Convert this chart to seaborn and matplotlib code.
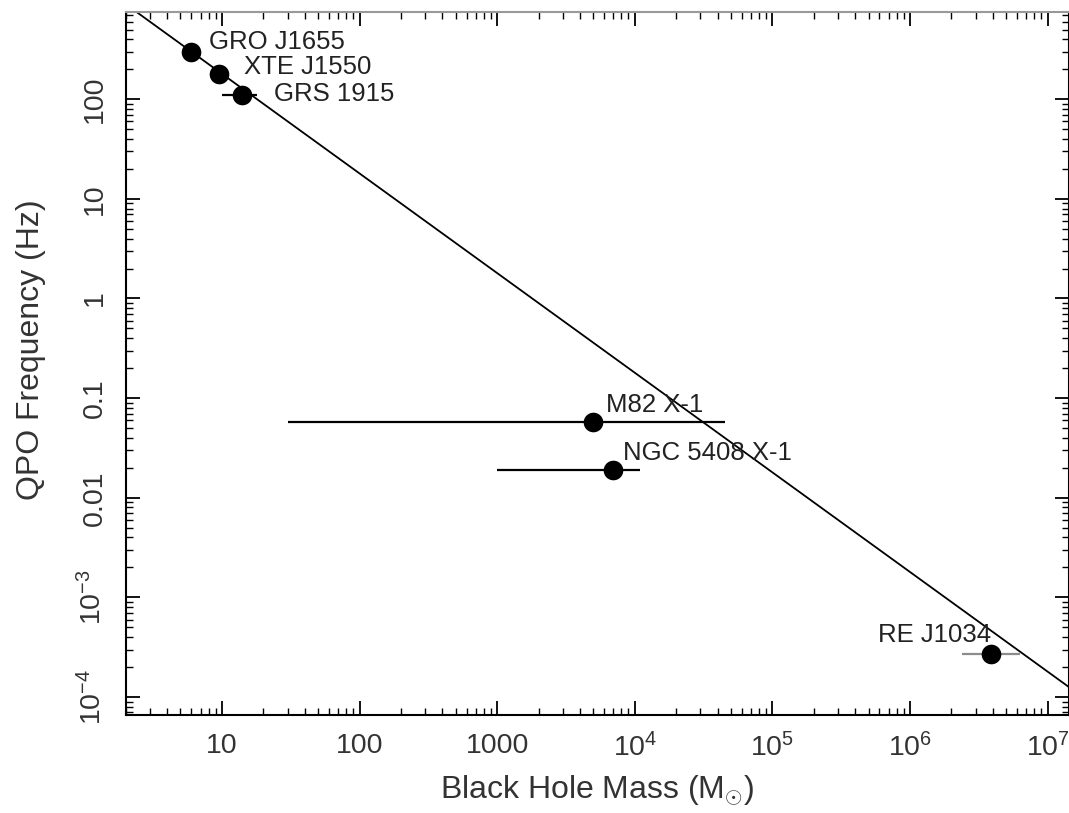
import numpy as np
import matplotlib
matplotlib.use("Agg")
import matplotlib.pyplot as plt
from matplotlib.ticker import LogLocator, NullFormatter
import seaborn as sns

# sources: name, black hole mass (Msun), QPO frequency (Hz), mass range
names = ["GRO J1655", "XTE J1550", "GRS 1915", "M82 X-1", "NGC 5408 X-1", "RE J1034"]
mass = [6.0, 9.5, 14.0, 5.0e3, 7.0e3, 3.9e6]
mass_lo = [np.nan, np.nan, 10.0, 30.0, 1.0e3, 2.4e6]
mass_hi = [np.nan, np.nan, 18.0, 4.5e4, 1.1e4, 6.3e6]
freq = [300.0, 180.0, 110.0, 0.057, 0.019, 2.7e-4]
bar_color = ["black", "black", "black", "black", "black", "#8c8c8c"]

# f ~ 1/M relation, end points
line_mass = [1.0, 1.0e8]
line_freq = [1.8e3, 1.8e-5]

x_ticks = [10, 100, 1000, 1e4, 1e5, 1e6, 1e7]
x_labels = ["10", "100", "1000", r"$\mathdefault{10^{4}}$", r"$\mathdefault{10^{5}}$",
            r"$\mathdefault{10^{6}}$", r"$\mathdefault{10^{7}}$"]
y_ticks = [1e-4, 1e-3, 0.01, 0.1, 1, 10, 100]
y_labels = [r"$\mathdefault{10^{-4}}$", r"$\mathdefault{10^{-3}}$", "0.01", "0.1", "1", "10", "100"]

# label offsets (points) and alignment
lab_dx = [13, 18, 23, 9, 7, 0]
lab_dy = [7, 5, 0.5, 12.5, 12.5, 14]
lab_ha = ["left", "left", "left", "left", "left", "right"]

sns.set_style("ticks")
plt.rcParams["font.family"] = ["Liberation Sans", "DejaVu Sans"]
plt.rcParams["mathtext.fontset"] = "custom"
plt.rcParams["mathtext.rm"] = "Liberation Sans"
plt.rcParams["mathtext.it"] = "Liberation Sans:italic"

fig = plt.figure(figsize=(10.69, 8.13), dpi=100)
ax = fig.add_axes([0.1176, 0.1205, 0.882, 0.8647])

sns.lineplot(x=line_mass, y=line_freq, color="black", lw=1.3, ax=ax)

for m, lo, hi, f, c in zip(mass, mass_lo, mass_hi, freq, bar_color):
    if np.isnan(lo):
        continue
    ax.errorbar([m], [f], xerr=[[m - lo], [hi - m]], fmt="none", ecolor=c,
                elinewidth=1.6, capsize=0)

sns.scatterplot(x=mass, y=freq, color="black", s=200, edgecolor="black", linewidth=0, ax=ax, zorder=5)

for n, m, f, dx, dy, ha in zip(names, mass, freq, lab_dx, lab_dy, lab_ha):
    ax.annotate(n, (m, f), xytext=(dx, dy), textcoords="offset points",
                ha=ha, va="center", fontsize=18.5, color="#222222")

ax.set_xscale("log")
ax.set_yscale("log")
ax.set_xlim(2.0, 1.42e7)
ax.set_ylim(6.6e-5, 750)

ax.set_xticks(x_ticks, x_labels)
ax.set_yticks(y_ticks, y_labels)
ax.xaxis.set_minor_locator(LogLocator(base=10, subs=np.arange(2, 10), numticks=100))
ax.yaxis.set_minor_locator(LogLocator(base=10, subs=np.arange(2, 10), numticks=100))
ax.xaxis.set_minor_formatter(NullFormatter())
ax.yaxis.set_minor_formatter(NullFormatter())

ax.tick_params(which="both", direction="in", top=True, right=True, color="black")
ax.tick_params(which="major", length=10, width=1.3, labelsize=20.5, pad=13, labelcolor="#333333")
ax.tick_params(which="minor", length=5, width=1.0)
for lab in ax.get_yticklabels():
    lab.set_rotation(90)
    lab.set_va("center")

for sp in ax.spines.values():
    sp.set_linewidth(1.5)
    sp.set_color("black")
ax.spines["top"].set_color("#999999")

ax.set_xlabel(r"Black Hole Mass (M$_{\odot}$)", fontsize=23, color="#333333", labelpad=8)
ax.set_ylabel("QPO Frequency (Hz)", fontsize=23, color="#333333")
ax.yaxis.set_label_coords(-0.085, 0.52)

fig.savefig("out.png", dpi=100)
